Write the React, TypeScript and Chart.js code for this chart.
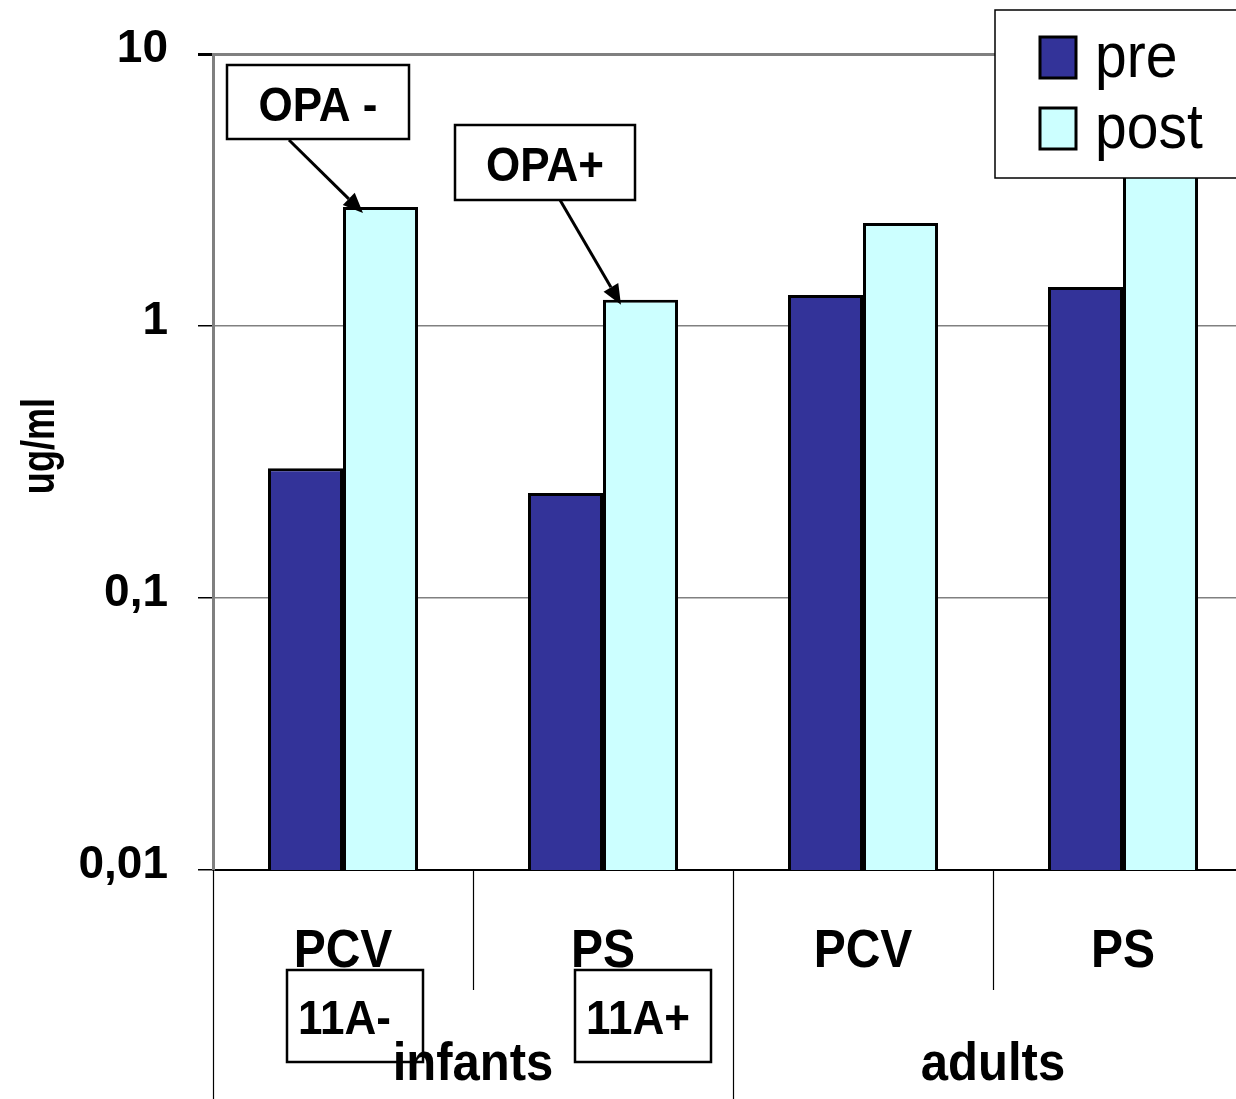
import React, { useEffect, useRef } from "react";
import { Chart, registerables } from "chart.js";

Chart.register(...registerables);

// ---- data ----
const categories = ["PCV", "PS", "PCV", "PS"];
const groups = ["infants", "adults"];
const seriesLabels = ["pre", "post"];
const preValues = [0.3, 0.243, 1.3, 1.39];
const postValues = [2.74, 1.25, 2.39, 5.0];
const yTicks = [0.01, 0.1, 1, 10];
const yTickLabels = ["0,01", "0,1", "1", "10"];
const yTitle = "ug/ml";
const topNotes = ["OPA -", "OPA+"];
const bottomNotes = ["11A-", "11A+"];

// ---- styles ----
const seriesColors = ["#333399", "#CCFFFF"];
const FONT = '"Liberation Sans", Arial, Helvetica, sans-serif';
const W = 1270;
const H = 1099;
const SY = 1.1; // vertical stretch for texts

function drawText(ctx: CanvasRenderingContext2D, text: string, x: number, y: number, size: number, weight: string, align: CanvasTextAlign) {
  ctx.save();
  ctx.translate(x, y);
  ctx.scale(1, SY);
  ctx.font = `${weight} ${size}px ${FONT}`;
  ctx.fillStyle = "#000";
  ctx.textAlign = align;
  ctx.textBaseline = "alphabetic";
  ctx.fillText(text, 0, 0);
  ctx.restore();
}

function arrow(ctx: CanvasRenderingContext2D, x1: number, y1: number, x2: number, y2: number) {
  const ang = Math.atan2(y2 - y1, x2 - x1);
  const len = 20;
  const hw = 8.5;
  const bx = x2 - len * Math.cos(ang);
  const by = y2 - len * Math.sin(ang);
  ctx.strokeStyle = "#000";
  ctx.lineWidth = 3;
  ctx.beginPath();
  ctx.moveTo(x1, y1);
  ctx.lineTo(bx, by);
  ctx.stroke();
  ctx.fillStyle = "#000";
  ctx.beginPath();
  ctx.moveTo(x2, y2);
  ctx.lineTo(bx + hw * Math.sin(ang), by - hw * Math.cos(ang));
  ctx.lineTo(bx - hw * Math.sin(ang), by + hw * Math.cos(ang));
  ctx.closePath();
  ctx.fill();
}

function box(ctx: CanvasRenderingContext2D, x: number, y: number, w: number, h: number, lw: number) {
  ctx.fillStyle = "#fff";
  ctx.fillRect(x, y, w, h);
  ctx.strokeStyle = "#000";
  ctx.lineWidth = lw;
  ctx.strokeRect(x, y, w, h);
}

const overlay = {
  id: "overlay",
  afterDraw(chart: any) {
    const ctx: CanvasRenderingContext2D = chart.ctx;
    const ca = chart.chartArea;
    const xs = chart.scales.x;
    const n = categories.length;
    const step = (ca.right - ca.left) / n;
    ctx.save();

    // category separators (two-level axis)
    ctx.strokeStyle = "#000";
    ctx.lineWidth = 1.2;
    for (let i = 0; i <= n; i++) {
      const x = Math.round(xs.getPixelForValue(0) - step / 2 + i * step) + 0.5;
      const long = i % 2 === 0;
      ctx.beginPath();
      ctx.moveTo(x, ca.bottom);
      ctx.lineTo(x, long ? H : ca.bottom + 120);
      ctx.stroke();
    }

    // category labels
    categories.forEach((c, i) => {
      drawText(ctx, c, xs.getPixelForValue(i), ca.bottom + 97, 48, "bold", "center");
    });

    // bottom note boxes
    const bBoxes = [
      [287, 970],
      [575, 970],
    ];
    bottomNotes.forEach((t, i) => {
      const [bx, by] = bBoxes[i];
      box(ctx, bx, by, 136, 92, 2.5);
      drawText(ctx, t, bx + 11, by + 64, 44, "bold", "left");
    });

    // group labels
    groups.forEach((g, gi) => {
      const cx = (xs.getPixelForValue(gi * 2) + xs.getPixelForValue(gi * 2 + 1)) / 2;
      drawText(ctx, g, cx, ca.bottom + 210, 49, "bold", "center");
    });

    // y title
    ctx.save();
    ctx.translate(54, 446);
    ctx.rotate(-Math.PI / 2);
    ctx.scale(0.95, 1.2);
    ctx.font = `bold 38px ${FONT}`;
    ctx.fillStyle = "#000";
    ctx.textAlign = "center";
    ctx.textBaseline = "alphabetic";
    ctx.fillText(yTitle, 0, 0);
    ctx.restore();

    // top notes with arrows pointing to the post bars
    const postMeta = chart.getDatasetMeta(1);
    const tBoxes = [
      { x: 227, y: 65, w: 182, h: 74, ax: 289, ay: 140, dx: 20, dy: 6, bar: 0 },
      { x: 455, y: 125, w: 180, h: 75, ax: 560, ay: 200, dx: 18, dy: 5, bar: 1 },
    ];
    tBoxes.forEach((b, i) => {
      box(ctx, b.x, b.y, b.w, b.h, 2.5);
      drawText(ctx, topNotes[i], b.x + b.w / 2, b.y + 56, 44, "bold", "center");
      const el = postMeta.data[b.bar];
      const tipX = el.x - el.width / 2 + b.dx;
      const tipY = el.y + b.dy;
      arrow(ctx, b.ax, b.ay, tipX, tipY);
    });

    // legend
    box(ctx, 995, 10, 300, 168, 1.5);
    const sq = [
      [1040, 37],
      [1040, 108],
    ];
    chart.data.datasets.forEach((ds: any, i: number) => {
      const [sx, sy] = sq[i];
      ctx.fillStyle = ds.backgroundColor;
      ctx.fillRect(sx, sy, 36, 41);
      ctx.strokeStyle = "#000";
      ctx.lineWidth = 3;
      ctx.strokeRect(sx, sy, 36, 41);
      drawText(ctx, ds.label, 1095, sy + 40, 57, "normal", "left");
    });

    ctx.restore();
  },
};

export default function App() {
  const ref = useRef<HTMLCanvasElement | null>(null);

  useEffect(() => {
    if (!ref.current) return;
    const chart = new Chart(ref.current, {
      type: "bar",
      data: {
        labels: categories,
        datasets: [
          {
            label: seriesLabels[0],
            data: preValues,
            backgroundColor: seriesColors[0],
            borderColor: "#000",
            borderWidth: 3,
            categoryPercentage: 0.577,
            barPercentage: 1,
          },
          {
            label: seriesLabels[1],
            data: postValues,
            backgroundColor: seriesColors[1],
            borderColor: "#000",
            borderWidth: 3,
            categoryPercentage: 0.577,
            barPercentage: 1,
          },
        ],
      },
      options: {
        animation: false,
        responsive: false,
        devicePixelRatio: 1,
        layout: { padding: { top: 54, right: W - 1253, left: 0, bottom: 0 } },
        plugins: {
          legend: { display: false },
          tooltip: { enabled: false },
          title: { display: false },
        },
        scales: {
          x: {
            type: "category",
            offset: true,
            grid: { display: false },
            ticks: { display: false },
            border: { display: true, color: "#000", width: 2 },
            afterFit: (s: any) => {
              s.height = H - 870;
              s.paddingLeft = 0;
              s.paddingRight = 0;
            },
          },
          y: {
            type: "logarithmic",
            min: 0.01,
            max: 10,
            afterBuildTicks: (s: any) => {
              s.ticks = yTicks.map((v) => ({ value: v, major: true }));
            },
            afterFit: (s: any) => {
              s.width = 213;
              s.paddingTop = 0;
              s.paddingBottom = 0;
            },
            grid: {
              color: "#808080",
              lineWidth: (c: any) => (c.tick && c.tick.value === 10 ? 3 : 1.5),
              tickColor: "#000",
              tickLength: 15,
              drawTicks: true,
            },
            border: { display: true, color: "#808080", width: 3 },
            ticks: {
              padding: 30,
              color: "#000",
              labelOffset: -5,
              font: { family: FONT, size: 46, weight: "bold" },
              callback: (v: any) => {
                const idx = yTicks.indexOf(Number(v));
                return idx >= 0 ? yTickLabels[idx] : "";
              },
            },
          },
        },
      },
      plugins: [overlay],
    });
    return () => chart.destroy();
  }, []);

  return (
    <div style={{ position: "fixed", left: 0, top: 0, width: 1236, height: 1099, overflow: "hidden", background: "#fff" }}>
      <canvas ref={ref} width={W} height={H} style={{ display: "block", width: W, height: H }} />
    </div>
  );
}
